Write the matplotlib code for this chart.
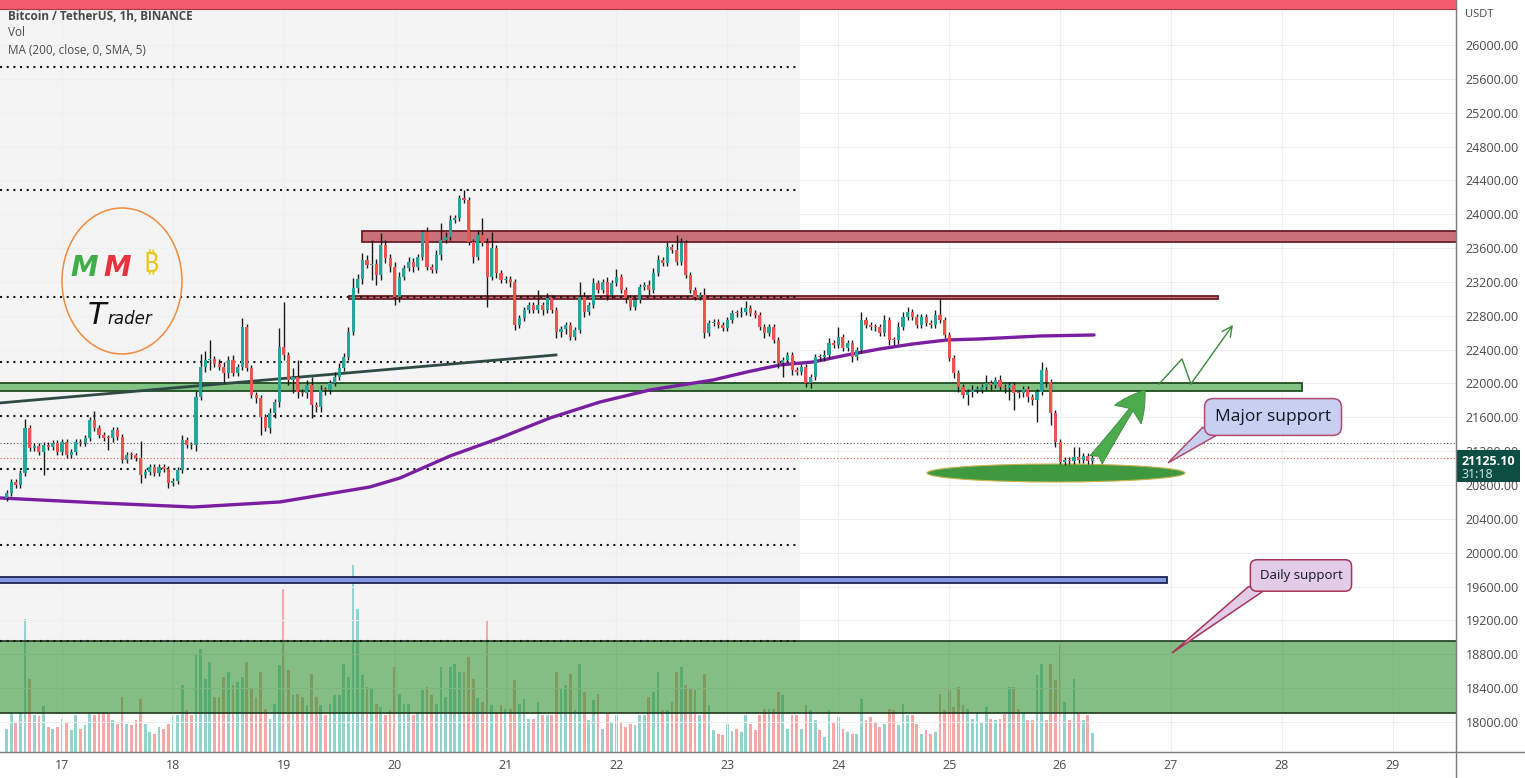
import numpy as np
import matplotlib.pyplot as plt
from matplotlib.patches import Rectangle, Ellipse, Polygon
from matplotlib.lines import Line2D
from matplotlib.transforms import blended_transform_factory

plt.rcParams['font.family'] = ['Open Sans', 'DejaVu Sans']

# hourly BTC/USDT candles, first one is the 16th at 12:00
start_day = 16.5
first_open = 20650
closes = [
    20706, 20836, 20800, 20942, 21474, 21238, 21261, 21190, 21273, 21250, 21297, 21190,
    21309, 21155, 21190, 21309, 21300, 21356, 21569, 21474, 21391, 21356, 21350, 21450,
    21368, 21096, 21155, 21150, 21120, 20919, 20954, 21013, 20942, 21013, 20990, 20824,
    20848, 20978, 21332, 21273, 21270, 21840, 22195, 22278, 22290, 22230, 22195, 22124,
    22278, 22124, 22195, 22668, 22183, 21864, 21829, 21604, 21474, 21651, 21781, 22431,
    22337, 22041, 22077, 21900, 21888, 21982, 21746, 21722, 21923, 21920, 22006, 22077,
    22183, 22313, 22609, 23129, 23235, 23459, 23400, 23412, 23282, 23637, 23483, 23377,
    23022, 23259, 23365, 23436, 23377, 23495, 23790, 23377, 23341, 23519, 23696, 23731,
    23932, 23956, 24192, 24168, 23672, 23495, 23755, 23660, 23259, 23601, 23306, 23223,
    23235, 23199, 22691, 22774, 22869, 22928, 22869, 22928, 22869, 23010, 22869, 22609,
    22640, 22691, 22550, 22632, 23022, 22845, 22928, 23188, 23105, 23199, 23046, 23188,
    23259, 23105, 23010, 22904, 22987, 23140, 23164, 23105, 23306, 23459, 23424, 23613,
    23578, 23436, 23660, 23282, 23105, 23022, 23046, 22597, 22715, 22727, 22691, 22656,
    22750, 22833, 22830, 22845, 22892, 22833, 22809, 22668, 22597, 22668, 22514, 22242,
    22278, 22337, 22160, 22136, 22195, 22006, 22077, 22313, 22310, 22337, 22479, 22455,
    22550, 22420, 22479, 22313, 22396, 22750, 22691, 22668, 22665, 22597, 22750, 22514,
    22510, 22668, 22786, 22845, 22786, 22691, 22786, 22715, 22691, 22809, 22750, 22573,
    22301, 22124, 21959, 21864, 21900, 21923, 21925, 21959, 22006, 21982, 22041, 21959,
    21947, 21982, 21888, 21885, 21935, 21840, 21805, 21900, 22160, 22018, 21651, 21309,
    21072, 21096, 21084, 21131, 21096, 21143, 21084, 21125.1,
]
upper_wick = [
    30, 40, 30, 40, 106, 40, 30, 30, 40, 30, 40, 30,
    40, 30, 30, 40, 40, 40, 40, 110, 30, 40, 40, 40,
    30, 40, 40, 30, 30, 200, 30, 40, 30, 40, 30, 40,
    30, 40, 60, 30, 40, 70, 150, 105, 225, 40, 60, 60,
    50, 60, 40, 105, 40, 40, 30, 40, 40, 60, 40, 225,
    530, 40, 100, 200, 40, 60, 95, 40, 60, 40, 40, 60,
    60, 50, 60, 120, 60, 80, 60, 280, 60, 140, 60, 50,
    60, 60, 40, 60, 50, 40, 25, 60, 40, 60, 200, 60,
    60, 40, 40, 95, 40, 40, 60, 200, 60, 190, 40, 40,
    40, 40, 40, 40, 40, 40, 40, 180, 40, 60, 40, 40,
    40, 40, 40, 40, 180, 60, 40, 60, 40, 40, 60, 40,
    95, 40, 40, 40, 40, 40, 40, 60, 60, 60, 40, 60,
    40, 180, 60, 40, 40, 40, 40, 80, 40, 40, 40, 40,
    40, 40, 40, 60, 80, 40, 40, 40, 40, 40, 40, 40,
    40, 40, 40, 40, 40, 40, 40, 40, 40, 60, 60, 40,
    120, 40, 40, 40, 40, 90, 40, 40, 40, 40, 60, 40,
    40, 60, 60, 60, 40, 40, 40, 40, 40, 60, 200, 40,
    40, 40, 40, 40, 40, 60, 40, 40, 95, 40, 40, 60,
    40, 40, 40, 40, 40, 40, 40, 40, 95, 40, 40, 40,
    30, 40, 30, 120, 120, 40, 30, 30,
]
lower_wick = [
    40, 40, 40, 40, 40, 40, 40, 40, 270, 40, 40, 40,
    40, 40, 40, 40, 40, 40, 40, 40, 40, 40, 140, 40,
    40, 40, 40, 40, 40, 95, 40, 40, 40, 40, 40, 60,
    40, 40, 40, 40, 40, 70, 40, 60, 120, 40, 40, 120,
    60, 40, 40, 40, 40, 40, 60, 210, 40, 60, 60, 60,
    60, 60, 150, 70, 40, 60, 150, 60, 60, 60, 40, 40,
    40, 40, 40, 40, 60, 60, 40, 180, 120, 60, 60, 60,
    95, 60, 40, 40, 60, 40, 40, 40, 40, 40, 60, 40,
    40, 40, 40, 40, 40, 70, 40, 40, 355, 40, 60, 40,
    40, 60, 60, 40, 40, 40, 40, 40, 60, 40, 40, 70,
    60, 60, 40, 40, 40, 60, 40, 40, 40, 40, 60, 40,
    40, 40, 60, 40, 40, 40, 40, 60, 40, 40, 40, 40,
    40, 40, 40, 40, 40, 40, 40, 60, 40, 40, 40, 40,
    40, 40, 40, 40, 40, 40, 40, 40, 60, 40, 40, 60,
    165, 40, 60, 40, 40, 50, 60, 40, 40, 40, 40, 40,
    40, 40, 40, 60, 40, 40, 40, 40, 40, 40, 40, 60,
    60, 40, 40, 40, 40, 40, 40, 40, 40, 40, 40, 40,
    40, 60, 60, 30, 120, 60, 40, 40, 40, 60, 40, 40,
    60, 140, 200, 60, 40, 60, 60, 260, 40, 60, 140, 60,
    25, 30, 40, 40, 40, 40, 40, 30,
]
# volume bar heights as drawn (pixels of the 744 px pane)
volume = [
    23, 40, 30, 38, 133, 73, 37, 36, 46, 25, 23, 25, 33, 30, 22, 37, 23, 27, 38, 37,
    40, 39, 39, 32, 28, 55, 28, 27, 32, 53, 28, 20, 18, 25, 23, 28, 37, 37, 67, 42,
    37, 98, 103, 73, 90, 55, 55, 75, 80, 67, 70, 75, 90, 63, 55, 80, 43, 33, 48, 87,
    163, 82, 57, 58, 55, 47, 78, 55, 47, 37, 48, 57, 57, 88, 75, 187, 143, 77, 65, 63,
    48, 45, 37, 42, 85, 58, 48, 48, 37, 40, 62, 65, 57, 48, 85, 55, 85, 88, 80, 80,
    95, 73, 54, 50, 132, 47, 40,
    47, 43, 43, 72, 48, 53, 33, 33, 50, 37, 37, 37,
    80, 63, 67, 78, 42, 88, 60, 32, 52, 58, 23, 38,
    30, 37, 30, 25, 28, 27, 37, 37, 55, 60, 80, 42,
    42, 50, 80, 85, 67, 63, 62, 37, 78, 47, 22, 18,
    17, 28, 21, 23, 20, 37, 28, 22, 37, 43, 43, 43,
    60, 57, 23, 37, 37, 23, 47, 42, 32, 22, 15, 42,
    30, 35, 23, 20, 18, 18, 53, 32, 35, 30, 25, 28,
    43, 42, 27, 48, 37, 37, 28, 18, 22, 18, 20, 58,
    42, 62, 45, 65, 47, 43, 33, 40, 30, 45, 33, 32,
    33, 38, 65, 65, 43, 40, 32, 32, 77, 88, 32, 88,
    72, 107, 50, 32, 73, 38, 32, 37, 19,
]

# MA(200)
ma_days = [16.441, 17.343, 18.181, 18.966, 19.777, 20.048, 20.499, 20.949, 21.400, 21.851, 22.302,
           22.870, 23.177, 23.474, 23.772, 24.078, 24.376, 24.673, 24.980, 25.278, 25.819, 26.306]
ma_values = [20647, 20588, 20540, 20600, 20777, 20883, 21143, 21356, 21592, 21781, 21923,
             22041, 22136, 22219, 22254, 22337, 22408, 22467, 22514, 22526, 22561, 22573]

trend_days = [16.441, 21.454]
trend_prices = [21770, 22337]

day_ticks = list(range(17, 30))
price_ticks = list(range(18000, 26001, 400))

range_end = 23.655
range_levels = [25740, 24287, 23022, 22254, 21616, 20990, 20091, 18960]
last_price = 21125.10
prev_level = 21297

# start, end, low, high, face, edge
zones = [
    (19.705, 30.0, 23672, 23802, '#c9717a', '#6e1c26'),
    (19.588, 27.424, 22996, 23034, '#c9717a', '#6e1c26'),
    (16.0, 28.181, 21915, 22001, '#82c282', '#1f4d1f'),
    (16.0, 26.964, 19640, 19714, '#8299e2', '#1c2452'),
]
daily_zone = (18100, 18960)

zig_days = [26.892, 27.099, 27.180]
zig_prices = [21994, 22290, 21994]
zig_end = (27.559, 22692)

X0, X1 = 16.441, 29.570
Y0, Y1 = 17645, 26437

fig = plt.figure(figsize=(15.25, 7.78), dpi=100)
ax = fig.add_axes([0, 26 / 778, 1456 / 1525, 744 / 778])
axv = ax.twinx()
axv.set_zorder(0)
ax.set_zorder(1)
axv.patch.set_visible(True)
axv.patch.set_facecolor('white')
ax.patch.set_visible(False)
ax.yaxis.tick_right()

ax.set_xlim(X0, X1)
ax.set_ylim(Y0, Y1)
axv.set_ylim(0, 744)
axv.set_yticks([])
for sp in axv.spines.values():
    sp.set_visible(False)
for sp in ax.spines.values():
    sp.set_visible(False)

# background of the highlighted range
frac = (daily_zone[1] - Y0) / (Y1 - Y0)
axv.axvspan(X0, range_end, ymin=frac, ymax=1, color='#f4f4f5', lw=0, zorder=0)

closes = np.array(closes, dtype=float)
opens = np.r_[first_open, closes[:-1]]
days = start_day + np.arange(len(closes)) / 24
up = closes >= opens
highs = np.maximum(opens, closes) + np.array(upper_wick)
lows = np.minimum(opens, closes) - np.array(lower_wick)

vol_colors = np.where(up, '#93d3cc', '#f6a8a6')
axv.bar(days, volume, width=0.025, color=vol_colors, lw=0, zorder=2)

ax.set_axisbelow(True)
ax.grid(True, color='#eceef2', lw=0.8)
ax.set_xticks(day_ticks)
ax.set_xticklabels([str(d) for d in day_ticks])
ax.set_yticks(price_ticks)
ax.set_yticklabels([f'{p:.2f}' for p in price_ticks])
ax.tick_params(axis='both', length=0, labelsize=9, labelcolor='#4a4a4a')
ax.tick_params(axis='y', pad=7)
ax.tick_params(axis='x', pad=5)

for x0, x1, lo, hi, fc, ec in zones:
    ax.add_patch(Rectangle((x0, lo), x1 - x0, hi - lo, fc=fc, ec=ec, lw=1.3, zorder=2))
ax.add_patch(Rectangle((16.0, daily_zone[0]), 14.0, daily_zone[1] - daily_zone[0],
                       fc=(0.17, 0.56, 0.17, 0.58), ec='#1e3b1e', lw=1.2, zorder=2))

for lvl in range_levels:
    ax.plot([X0, range_end], [lvl, lvl], color='#1a1a1a', lw=1.5, ls=(0, (1, 2.2)), zorder=2.5)
ax.axhline(prev_level, color='#555555', lw=0.8, ls=(0, (1, 2)), zorder=2.5)
ax.axhline(last_price, color='#ef5350', lw=0.8, ls=(0, (1, 2)), zorder=2.5)

ax.plot(trend_days, trend_prices, color='#2e4a44', lw=2, zorder=3)
ax.plot(ma_days, ma_values, color='#7b1fa2', lw=2.4, zorder=3, solid_capstyle='round')

ax.add_patch(Ellipse((25.963, 20942), 2.326, 213, fc='#3f9a3f', ec='#c9b24e', lw=0.8, zorder=3.2))

# candles
ax.vlines(days, lows, highs, color='#1a1a1a', lw=1, zorder=4)
body_low = np.minimum(opens, closes)
body_h = np.maximum(np.abs(closes - opens), 12)
ax.bar(days, body_h, bottom=body_low, width=0.028, color=np.where(up, '#26a69a', '#ef5350'),
       lw=0, zorder=4.5)

# arrows
ax.annotate('', xy=(26.766, 21923), xytext=(26.324, 21096),
            arrowprops=dict(arrowstyle='fancy,head_length=1.2,head_width=1.3,tail_width=0.6',
                            fc='#4cab4c', ec='#3d8b3d', lw=0.6, shrinkA=0, shrinkB=0,
                            mutation_scale=18), zorder=6)
ax.plot(zig_days, zig_prices, color='#3a8a3a', lw=1, zorder=6)
ax.annotate('', xy=zig_end, xytext=(zig_days[-1], zig_prices[-1]),
            arrowprops=dict(arrowstyle='->,head_length=0.6,head_width=0.3', color='#3a8a3a',
                            lw=1, shrinkA=0, shrinkB=0, mutation_scale=12), zorder=6)

# callouts
def callout(text, pos, tip, base, size, fc, ec, pad):
    ax.add_patch(Polygon([base[0], tip, base[1]], closed=True, fc=fc, ec=ec, lw=1.1, zorder=7))
    ax.text(pos[0], pos[1], text, ha='center', va='center', fontsize=size, color='#131722',
            zorder=8, bbox=dict(boxstyle=f'round,pad={pad},rounding_size=0.5', fc=fc, ec=ec, lw=1.1))


callout('Major support', (27.92, 21604), (26.973, 21061), [(27.285, 21480), (27.42, 21395)],
        12.5, '#c7d0f1', '#b04b6e', 0.6)
callout('Daily support', (28.172, 19731), (27.009, 18815), [(27.70, 19600), (27.83, 19545)],
        9.5, '#e2cce7', '#a8345a', 0.7)

# logo
ax.add_patch(Ellipse((17.541, 23211), 1.082, 1725, fc='none', ec='#f08a3c', lw=1.1, zorder=6))
ax.text(17.198, 23365, 'M', ha='center', va='center', fontsize=20, fontweight='bold',
        fontstyle='italic', color='#3fae49', family='DejaVu Sans', zorder=6)
ax.text(17.496, 23365, 'M', ha='center', va='center', fontsize=20, fontweight='bold',
        fontstyle='italic', color='#e8323c', family='DejaVu Sans', zorder=6)
ax.text(17.803, 23390, '\u20bf', ha='center', va='center', fontsize=19, fontweight='bold',
        color='#e8c81c', family=['Noto Sans', 'Roboto', 'DejaVu Sans'], zorder=6)
ax.text(17.40, 22703, 'T', ha='right', va='baseline', fontsize=22, fontstyle='italic',
        color='#111111', family='DejaVu Sans', zorder=6)
ax.text(17.41, 22703, 'rader', ha='left', va='baseline', fontsize=12, fontstyle='italic',
        color='#111111', family='DejaVu Sans', zorder=6)

# last price tag on the price scale
trans = blended_transform_factory(ax.transAxes, ax.transData)
ax.add_patch(Rectangle((1.0, 20836), 64 / 1456, 21214 - 20836, transform=trans, clip_on=False,
                       fc='#0c4f42', ec='none', zorder=10))
ax.text(1.0035, 21080, f'{last_price:.2f}', transform=trans, ha='left', va='center', fontsize=9,
        fontweight='bold', color='white', zorder=11, clip_on=False)
ax.text(1.0035, 20925, '31:18', transform=trans, ha='left', va='center', fontsize=9,
        color='#d8e8e4', zorder=11, clip_on=False)
ax.text(1.006, 26366, 'USDT', transform=trans, ha='left', va='center', fontsize=8,
        color='#4a4a4a', clip_on=False)

# chart frame pieces
fig.add_artist(Line2D([1456 / 1525] * 2, [0, 1], color='#7a7a7a', lw=1, zorder=5))
fig.add_artist(Line2D([0, 1], [26 / 778] * 2, color='#7a7a7a', lw=1, zorder=5))
fig.add_artist(Rectangle((0, 1 - 9 / 778), 1456 / 1525, 9 / 778, transform=fig.transFigure,
                         fc='#f2596a', ec='none', zorder=5))
fig.add_artist(Line2D([0, 1456 / 1525], [1 - 9 / 778] * 2, color='#b03a48', lw=0.8, zorder=5))

fig.text(8 / 1525, 1 - 17 / 778, 'Bitcoin / TetherUS, 1h, BINANCE', va='center', fontsize=8.5,
         fontweight='bold', color='#4a4a4a')
fig.text(8 / 1525, 1 - 33 / 778, 'Vol', va='center', fontsize=8.5, color='#4a4a4a')
fig.text(8 / 1525, 1 - 50 / 778, 'MA (200, close, 0, SMA, 5)', va='center', fontsize=8.5,
         color='#4a4a4a')

fig.savefig('out.png', dpi=100, facecolor='white')
